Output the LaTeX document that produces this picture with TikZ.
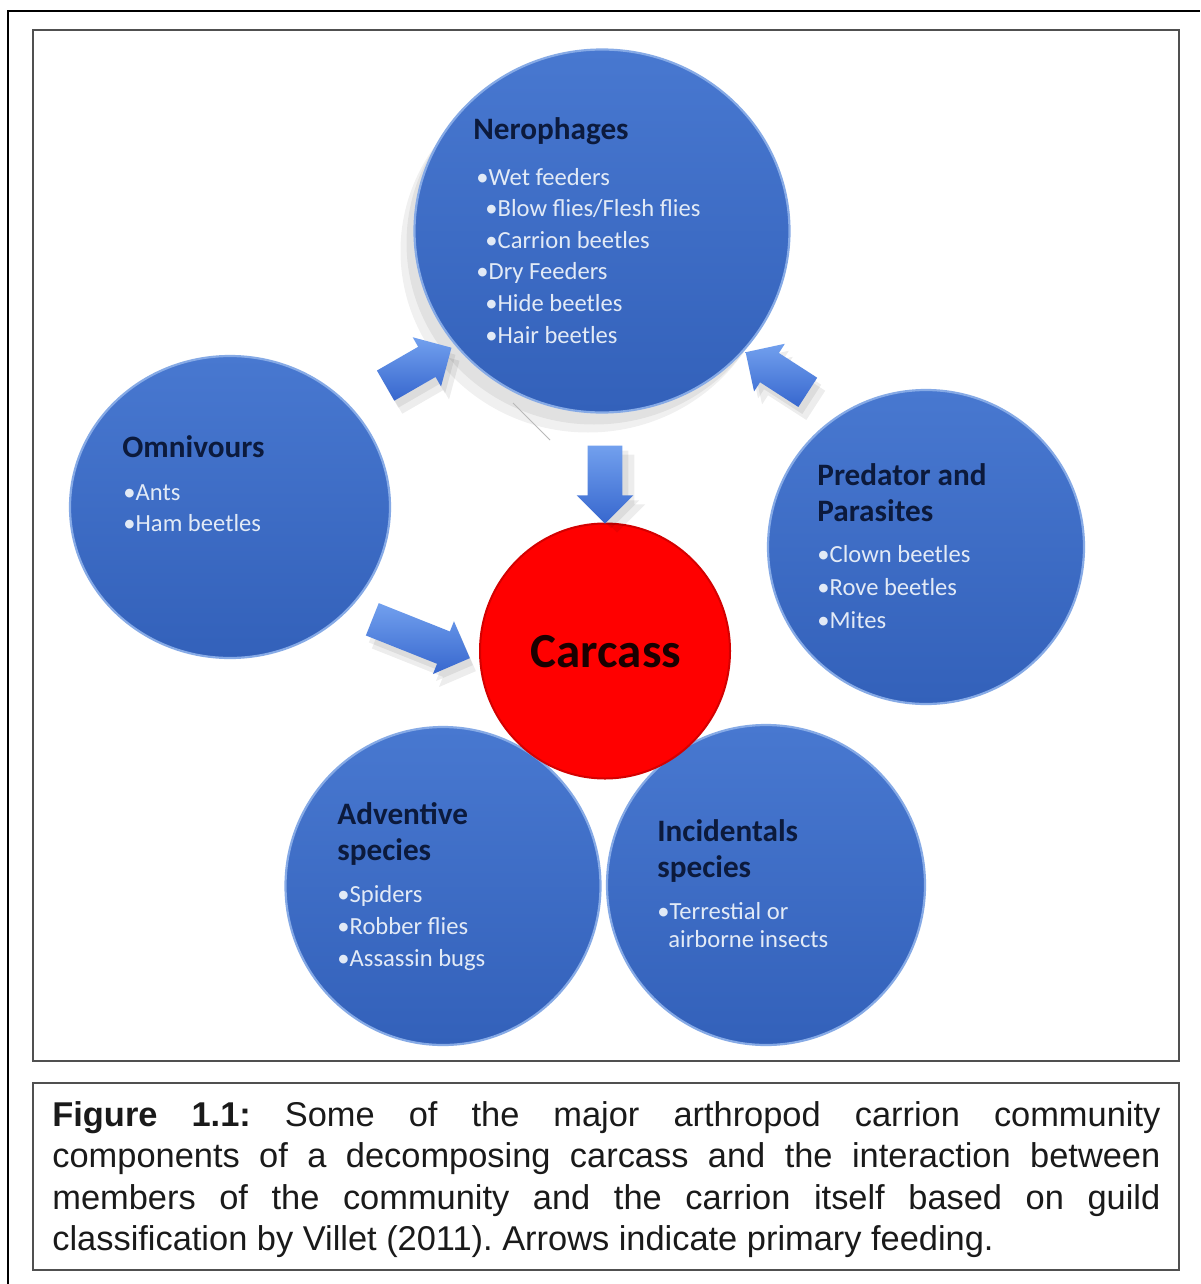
\documentclass[tikz,border=0pt]{standalone}
\usepackage{fontspec}
\setmainfont{Carlito}
\newfontfamily\capfont{Liberation Sans}
\usetikzlibrary{shapes.geometric,shapes.arrows,calc}
\definecolor{circblueT}{HTML}{4878D0}
\definecolor{circblueB}{HTML}{3361BA}
\definecolor{rimblue}{HTML}{86AAE6}
\definecolor{titlenavy}{HTML}{0C1A3C}
\definecolor{itemlight}{HTML}{E2EAF6}
\definecolor{arrowT}{HTML}{72A0EE}
\definecolor{arrowB}{HTML}{3767CE}
\definecolor{carcred}{HTML}{FF0000}
\definecolor{carcrim}{HTML}{D40000}
\definecolor{framegray}{HTML}{505050}
\definecolor{captext}{HTML}{1A1A1A}
\newcommand{\lines}[1]{\begin{tabular}[t]{@{}l@{}}#1\end{tabular}}
\tikzset{
  guild/.style={ellipse, inner sep=0pt, top color=circblueT, bottom color=circblueB,
    draw=rimblue, line width=1.1pt},
  gtitle/.style={anchor=base west, inner sep=0pt, text=titlenavy,
    font=\fontsize{15.6}{18}\selectfont\bfseries},
  gitems/.style={anchor=base west, inner sep=0pt, text=itemlight,
    font=\fontsize{12.3}{16}\selectfont},
  arrowshape/.style={single arrow, inner sep=0pt, text height=17pt, text depth=0pt,
    minimum width=28pt, single arrow head extend=5.5pt, single arrow tip angle=90,
    sloped, allow upside down, midway},
  feedarrow/.style={arrowshape, top color=arrowT, bottom color=arrowB, draw=none},
  arrowshadow/.style={arrowshape, draw=none, fill=black, fill opacity=0.07},
  softshadow/.style={ellipse, inner sep=0pt, draw=none, fill=black, fill opacity=0.06},
}
\begin{document}
\begin{tikzpicture}[x=0.5pt,y=-0.5pt]
\useasboundingbox (0,0) rectangle (1200,1284);
\fill[white] (0,0) rectangle (1200,1284);
% frames
\draw[black, line width=0.8pt] (8,1284) -- (8,11) -- (1200,11);
\draw[framegray, line width=1pt] (33,30) rectangle (1179,1061);
\draw[framegray, line width=1pt] (33,1083) rectangle (1179,1270);

% soft shadow of the top circle
\node[softshadow, minimum width=187.5pt, minimum height=181.5pt] (neroshA) at (594,243) {};
\node[softshadow, minimum width=187.5pt, minimum height=181.5pt] (neroshB) at (588,251) {};

% guild circles
\node[guild, minimum width=187.5pt, minimum height=181.5pt] (nero) at (602,231) {};
\node[guild, minimum width=160pt, minimum height=151pt] (omni) at (230,507) {};
\node[guild, minimum width=158pt, minimum height=157pt] (pred) at (926,547) {};
\node[guild, minimum width=157.5pt, minimum height=159pt] (adv) at (443,886) {};
\node[guild, minimum width=159pt, minimum height=160pt] (inc) at (766,885) {};
\node[ellipse, inner sep=0pt, minimum width=125pt, minimum height=127.5pt,
  fill=carcred, draw=carcrim, line width=1pt] (carc) at (605,651) {};
\node[inner sep=0pt, font=\fontsize{24.5}{28}\selectfont\bfseries, text=black!90!red] (carct) at (606,652) {Carcass};

% faint artefact line
\draw[gray!55, line width=0.4pt] (513,403) -- (550,440);

% texts
\node[gtitle] (nerot) at (473,140) {Nerophages};
\node[gitems, font=\fontsize{12.3}{15.8}\selectfont] (neroi) at (476,185) {\lines{%
  •Wet feeders\\
  \hspace*{4.5pt}•Blow flies/Flesh flies\\
  \hspace*{4.5pt}•Carrion beetles\\
  •Dry Feeders\\
  \hspace*{4.5pt}•Hide beetles\\
  \hspace*{4.5pt}•Hair beetles}};

\node[gtitle] (omnit) at (122,457) {Omnivours};
\node[gitems, font=\fontsize{12.3}{15.5}\selectfont] (omnii) at (123,500) {\lines{•Ants\\•Ham beetles}};

\node[gtitle] (predt) at (817,485) {\lines{Predator and\\Parasites}};
\node[gitems, font=\fontsize{12.3}{16.5}\selectfont] (predi) at (817,562) {\lines{•Clown beetles\\•Rove beetles\\•Mites}};

\node[gtitle] (advt) at (337,824) {\lines{Adventive\\species}};
\node[gitems, font=\fontsize{12.3}{16.2}\selectfont] (advi) at (337,902) {\lines{•Spiders\\•Robber flies\\•Assassin bugs}};

\node[gtitle] (inct) at (657,841) {\lines{Incidentals\\species}};
\node[gitems, font=\fontsize{12.3}{14}\selectfont] (inci) at (657,919) {\lines{•Terrestial or\\\hspace*{5.5pt}airborne insects}};

% feeding arrows
\coordinate (a1s) at (378,390); \coordinate (a1e) at (444,352);
\coordinate (a2s) at (815,397); \coordinate (a2e) at (753,357);
\coordinate (a3s) at (605,437); \coordinate (a3e) at (605,515);
\coordinate (a4s) at (364,616); \coordinate (a4e) at (462,655);
% soft shadows (offset down-right)
\path ($(a1s)+(4,7)$) -- ($(a1e)+(4,7)$) node[arrowshadow, minimum height=38pt] (sh1a) {};
\path ($(a1s)+(8,13)$) -- ($(a1e)+(8,13)$) node[arrowshadow, minimum height=38pt] (sh1b) {};
\path ($(a2s)+(4,7)$) -- ($(a2e)+(4,7)$) node[arrowshadow, minimum height=37pt] (sh2a) {};
\path ($(a2s)+(8,13)$) -- ($(a2e)+(8,13)$) node[arrowshadow, minimum height=37pt] (sh2b) {};
\path ($(a3s)+(6,5)$) -- ($(a3e)+(6,5)$) node[arrowshadow, minimum height=39pt] (sh3a) {};
\path ($(a3s)+(12,9)$) -- ($(a3e)+(12,9)$) node[arrowshadow, minimum height=39pt] (sh3b) {};
\path ($(a4s)+(3,7)$) -- ($(a4e)+(3,7)$) node[arrowshadow, minimum height=52.5pt] (sh4a) {};
\path ($(a4s)+(6,13)$) -- ($(a4e)+(6,13)$) node[arrowshadow, minimum height=52.5pt] (sh4b) {};
% arrows
\path (a1s) -- (a1e) node[feedarrow, minimum height=38pt] (arr1) {};
\path (a2s) -- (a2e) node[feedarrow, minimum height=37pt] (arr2) {};
\path (a3s) -- (a3e) node[feedarrow, minimum height=39pt] (arr3) {};
\path (a4s) -- (a4e) node[feedarrow, minimum height=52.5pt] (arr4) {};

% caption
\node[anchor=base west, inner sep=0pt, text=captext,
  font=\capfont\frenchspacing\fontsize{17.2}{20.75}\selectfont] (cap) at (52,1126) {\lines{%
  \makebox[554pt][s]{\textbf{Figure 1.1:} Some of the major arthropod carrion community}\\
  \makebox[554pt][s]{components of a decomposing carcass and the interaction between}\\
  \makebox[554pt][s]{members of the community and the carrion itself based on guild}\\
  classification by Villet (2011). Arrows indicate primary feeding.}};
\end{tikzpicture}
\end{document}
